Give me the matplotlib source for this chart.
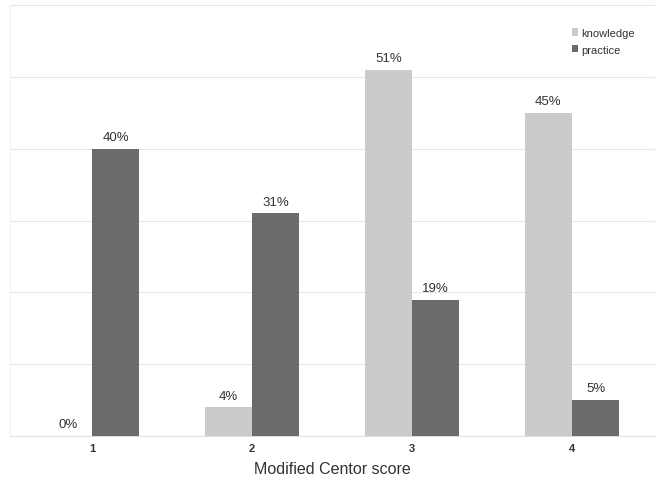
import matplotlib

matplotlib.use("Agg")
import matplotlib.pyplot as plt
import numpy as np

# Данные
CATEGORIES = ["1", "2", "3", "4"]
KNOWLEDGE = [0, 4, 51, 45]
PRACTICE = [40, 31, 19, 5]
SERIES_NAMES = ["knowledge", "practice"]

COLOR_KNOWLEDGE = "#cbcbcb"
COLOR_PRACTICE = "#6b6b6b"
TEXT_COLOR = "#333333"

plt.rcParams["font.family"] = ["Liberation Sans", "DejaVu Sans"]

fig = plt.figure(figsize=(6.57, 4.81), dpi=100)
ax = fig.add_axes([10 / 657, 44 / 481, 645 / 657, 431 / 481])

x = np.arange(len(CATEGORIES))
width = 0.295

bars_k = ax.bar(x - width / 2, KNOWLEDGE, width, color=COLOR_KNOWLEDGE,
                label=SERIES_NAMES[0], zorder=3)
bars_p = ax.bar(x + width / 2, PRACTICE, width, color=COLOR_PRACTICE,
                label=SERIES_NAMES[1], zorder=3)

for bars, vals in ((bars_k, KNOWLEDGE), (bars_p, PRACTICE)):
    for b, v in zip(bars, vals):
        ax.text(b.get_x() + b.get_width() / 2, v + 0.8, f"{v}%",
                ha="center", va="bottom", fontsize=9.5, color=TEXT_COLOR)

ax.set_xlim(-0.5125, 3.519)
ax.set_ylim(0, 60)
ax.set_yticks(np.arange(0, 61, 10))
ax.yaxis.grid(True, color="#e6e6e6", linewidth=0.8, zorder=0)
ax.tick_params(axis="y", left=False, labelleft=False)
ax.tick_params(axis="x", length=0, pad=5)
ax.set_xticks(x)
ax.set_xticklabels(CATEGORIES, fontsize=8, fontweight="bold", color=TEXT_COLOR)

for side in ("top", "right"):
    ax.spines[side].set_visible(False)
ax.spines["left"].set_color("#f0f0f0")
ax.spines["bottom"].set_color("#e0e0e0")

ax.set_xlabel("Modified Centor score", fontsize=11.5, color=TEXT_COLOR, labelpad=6)

ax.legend(loc="upper right", bbox_to_anchor=(0.985, 0.97), frameon=False,
          fontsize=8, handlelength=0.6, handleheight=0.6, handletextpad=0.3,
          labelspacing=0.6, labelcolor=TEXT_COLOR)

fig.savefig("out.png", dpi=100)
